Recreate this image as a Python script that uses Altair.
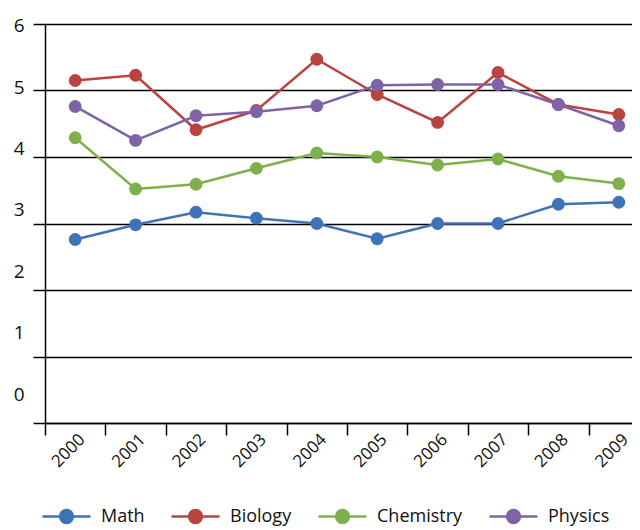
import altair as alt
import pandas as pd

years = ["2000", "2001", "2002", "2003", "2004", "2005", "2006", "2007", "2008", "2009"]
subjects = ["Math", "Biology", "Chemistry", "Physics"]
math = [2.76, 2.98, 3.17, 3.08, 3.00, 2.77, 3.00, 3.00, 3.29, 3.32]
biology = [5.15, 5.23, 4.41, 4.70, 5.47, 4.94, 4.52, 5.27, 4.79, 4.64]
chemistry = [4.29, 3.52, 3.59, 3.83, 4.06, 4.00, 3.88, 3.97, 3.71, 3.60]
physics = [4.76, 4.25, 4.62, 4.68, 4.77, 5.08, 5.09, 5.09, 4.79, 4.47]
colors = ["#3F72B7", "#B84341", "#80B04C", "#7E63A6"]

rows = []
for name, vals in zip(subjects, [math, biology, chemistry, physics]):
    for y, v in zip(years, vals):
        rows.append({"Year": y, "Subject": name, "Value": v})
df = pd.DataFrame(rows)

FONT = "Open Sans"
sym = "M-1,0H1M0.27,0A0.27,0.27,0,1,1,-0.27,0A0.27,0.27,0,1,1,0.27,0Z"

xenc = alt.X("Year:N", sort=years, title=None,
             scale=alt.Scale(range=[0, 604], paddingInner=0, paddingOuter=0),
             axis=alt.Axis(tickBand="extent", labelAngle=-45, labelFontSize=17, labelFont=FONT,
                           labelColor="#111", tickSize=12, tickColor="black", domainColor="black",
                           domainWidth=1.5, tickWidth=1.5, labelOffset=1, labelPadding=-4, grid=False,
                           labelAlign="right", labelBaseline="top"))

color = alt.Color("Subject:N", sort=subjects,
                  scale=alt.Scale(domain=subjects, range=colors),
                  legend=alt.Legend(title=None, orient="none", direction="horizontal",
                                    legendX=-4, legendY=467, symbolType=sym, symbolSize=2304,
                                    symbolStrokeWidth=2.5, labelFontSize=18, labelFont=FONT,
                                    labelColor="#111", columnPadding=21, labelOffset=9))

lines = alt.Chart(df).mark_line(strokeWidth=2.5, point=alt.OverlayMarkDef(filled=True, size=165, opacity=1)).encode(
    x=xenc,
    y=alt.Y("Value:Q", title=None, scale=alt.Scale(domain=[0, 6], nice=False),
            axis=alt.Axis(orient="left", labels=False, tickSize=12, values=[0, 1, 2, 3, 4, 5, 6],
                          grid=True, gridColor="black", gridWidth=1.5, gridOpacity=1,
                          tickColor="black", tickWidth=1.5, domainColor="black", domainWidth=1.5)),
    color=color,
)

labels = alt.Chart(df).mark_point(opacity=0).encode(
    x=xenc,
    y=alt.Y("Value:Q", title=None, scale=alt.Scale(domain=[-0.47, 6.03], nice=False, zero=False),
            axis=alt.Axis(orient="left", values=[0, 1, 2, 3, 4, 5, 6], ticks=False, domain=False,
                          grid=False, labelPadding=21, labelFontSize=19, labelFont=FONT,
                          labelColor="#111")),
)

chart = alt.layer(lines, labels).resolve_scale(y="independent").properties(
    width=587, height=399,
    autosize=alt.AutoSizeParams(type="none"),
    padding={"left": 37, "top": 16, "right": 0, "bottom": 107},
).configure_view(stroke=None)

chart.save("out.html", embed_options={"renderer": "svg", "actions": False})
